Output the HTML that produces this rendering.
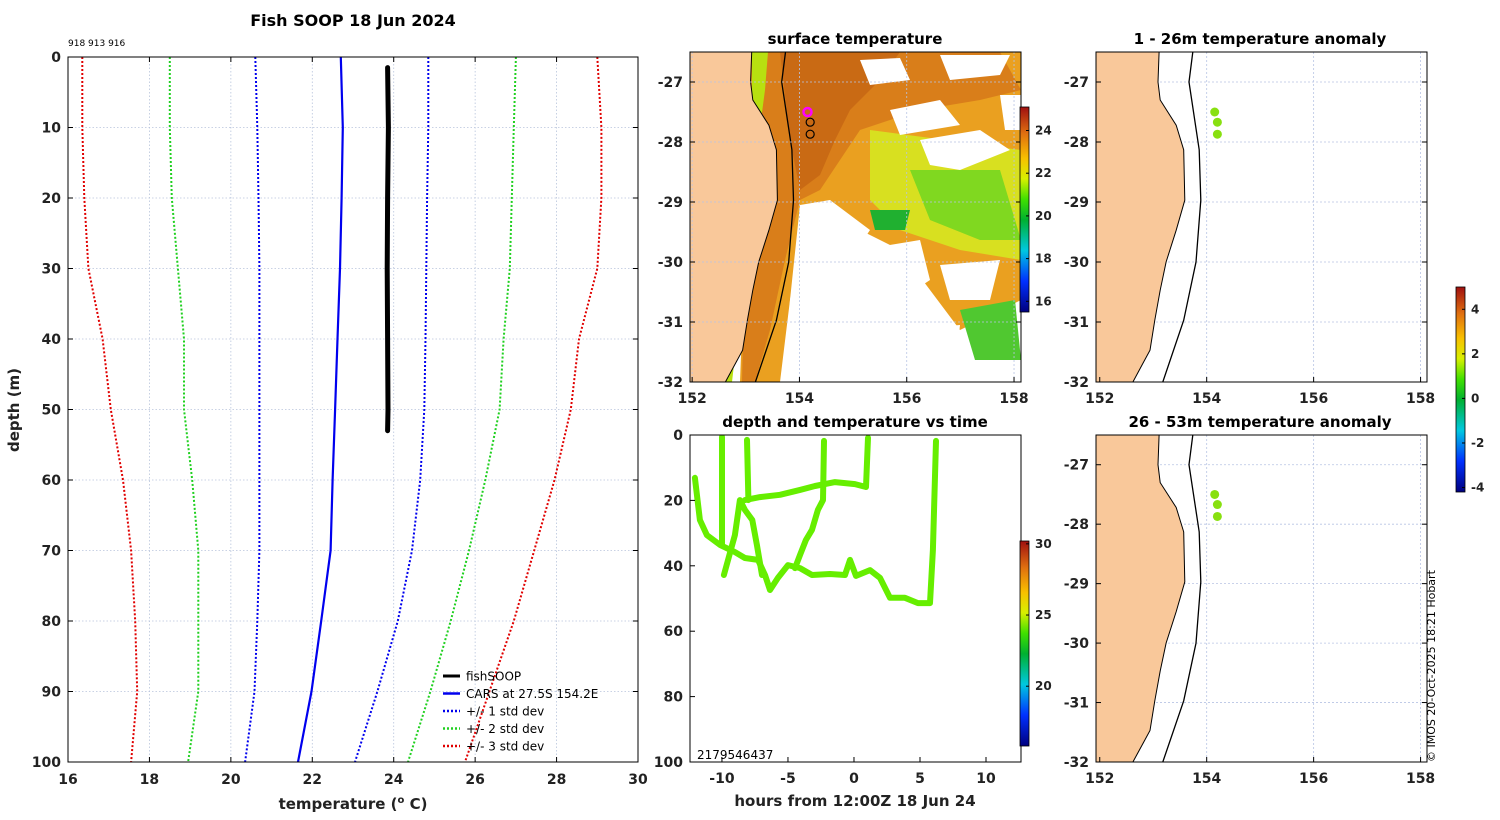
<!DOCTYPE html>
<html><head><meta charset="utf-8">
<style>
html,body{margin:0;padding:0;background:#fff;width:1500px;height:820px;overflow:hidden}
svg{font-family:"DejaVu Sans","Liberation Sans",sans-serif}
</style></head>
<body>
<svg id="fig" width="1500" height="820" viewBox="0 0 1500 820" xmlns="http://www.w3.org/2000/svg">
<defs>
<linearGradient id="jet" x1="0" y1="1" x2="0" y2="0">
<stop offset="0" stop-color="#00007f"/><stop offset="0.15" stop-color="#0030ff"/><stop offset="0.3" stop-color="#00c8e0"/>
<stop offset="0.45" stop-color="#00b030"/><stop offset="0.55" stop-color="#40e000"/><stop offset="0.65" stop-color="#d8f000"/>
<stop offset="0.75" stop-color="#f8c000"/><stop offset="0.87" stop-color="#e07010"/><stop offset="1" stop-color="#a01010"/>
</linearGradient>
<clipPath id="clipL"><rect x="68" y="57" width="570" height="705"/></clipPath>
<clipPath id="clipM"><rect x="690" y="52" width="331" height="330"/></clipPath>
<clipPath id="clipT"><rect x="690" y="435" width="331" height="327"/></clipPath>
<clipPath id="clipR1"><rect x="1096" y="52" width="331" height="330"/></clipPath>
<clipPath id="clipR2"><rect x="1096" y="435" width="331" height="327"/></clipPath>
</defs>
<g id="root"></g>
</svg>
<script>
// ---------- profile data (depth in m, temperature in °C) ----------
const depths = [0,10,20,30,40,50,60,70,80,90,100];
const carsMean = [22.7,22.75,22.72,22.68,22.62,22.56,22.5,22.45,22.22,21.98,21.65];
const std1Lo = [20.6,20.65,20.68,20.7,20.7,20.7,20.7,20.7,20.65,20.58,20.35];
const std1Hi = [24.85,24.85,24.82,24.8,24.78,24.75,24.65,24.45,24.1,23.6,23.05];
const std2Lo = [18.5,18.5,18.55,18.7,18.85,18.85,19.05,19.2,19.2,19.2,18.95];
const std2Hi = [27.0,26.95,26.9,26.85,26.7,26.6,26.25,25.85,25.4,24.9,24.35];
const std3Lo = [16.35,16.35,16.4,16.5,16.85,17.05,17.35,17.55,17.65,17.7,17.55];
const std3Hi = [29.0,29.1,29.1,29.0,28.55,28.35,27.95,27.45,26.95,26.35,25.75];
const fishDepth = [1.5,10,20,30,40,50,53];
const fishTemp = [23.85,23.87,23.85,23.84,23.85,23.86,23.85];
const xTicks = [16,18,20,22,24,26,28,30];
const yTicks = [0,10,20,30,40,50,60,70,80,90,100];
// ---------- depth vs time tracks [hours, depth] ----------
const trackA = [[-12.05,13.1],[-11.67,26],[-11.14,30.6],[-10.15,33.6],[-9.02,35.8],[-8.26,37.6],[-7.27,38.2],[-6.74,42.8],[-6.36,47.4],[-5.76,43.7],[-5.0,39.8],[-4.09,40.7],[-3.18,42.8],[-1.82,42.5],[-0.68,42.8],[-0.3,38.2],[0.15,43.1],[1.21,41.3],[1.97,43.7],[2.73,49.8],[3.86,49.8],[4.85,51.4],[5.76,51.4],[5.98,35.2],[6.21,1.8]];
const trackB = [[-8.26,19.9],[-7.12,19],[-5.6,18.3],[-4.09,16.8],[-2.95,15.6],[-1.44,14.4],[0.08,15],[0.91,15.9],[1.06,0.9]];
const trackC = [[-9.85,42.8],[-9.02,30.6],[-8.64,19.9],[-8.26,22.9],[-7.7,26],[-7.35,33.6],[-6.97,42.8]];
const spike1 = [[-10,0.6],[-10,33.6]];
const spike2 = [[-8.1,1.5],[-8.0,19.9]];
const spike3 = [[-2.27,1.8],[-2.35,19.9],[-2.73,22.9],[-3.18,29],[-3.64,32.1],[-4.09,36.7],[-4.47,40.7]];
const hourTicks = [-10,-5,0,5,10];
const depthTicks2 = [0,20,40,60,80,100];
// ---------- map data ----------
const latTicks = [-27,-28,-29,-30,-31,-32];
const lonTicks = [152,154,156,158];
const coastLat = [-26.4,-26.5,-27,-27.3,-27.72,-28.13,-28.97,-29.47,-30.0,-30.47,-30.97,-31.47,-32,-32.2];
const coastLon = [153.11,153.11,153.09,153.13,153.43,153.57,153.59,153.43,153.24,153.13,153.03,152.94,152.62,152.5];
const isoLat = [-26.4,-26.5,-27,-28.13,-28.97,-30,-30.97,-32,-32.2];
const isoLon = [153.76,153.74,153.67,153.86,153.89,153.8,153.57,153.18,153.1];
const obsLon = [154.15,154.2,154.2];
const obsLat = [-27.5,-27.67,-27.87];
const sstTicks = [16,18,20,22,24];
const anomTicks = [4,2,0,-2,-4];
const tempTicks = [30,25,20];

const NS='http://www.w3.org/2000/svg';
const root=document.getElementById('root');
function mk(tag,attrs,parent,txt){const e=document.createElementNS(NS,tag);for(const k in attrs)e.setAttribute(k,attrs[k]);if(txt!==undefined)e.textContent=txt;(parent||root).appendChild(e);return e;}
function ptsStr(arr){return arr.map(p=>p[0].toFixed(1)+','+p[1].toFixed(1)).join(' ');}

// ================= LEFT PROFILE =================
const L={x0:68,x1:638,y0:57,y1:762};
const sx=t=>L.x0+(t-16)/(30-16)*(L.x1-L.x0);
const sy=d=>L.y0+d/100*(L.y1-L.y0);
let g=mk('g',{});


xTicks.forEach(t=>{const l=mk('line',{x1:sx(t),x2:sx(t),y1:L.y0,y2:L.y1,stroke:'#b8c4dc','stroke-width':0.8,'stroke-dasharray':'1.5,2'},g);});
yTicks.forEach(t=>{const l=mk('line',{x1:L.x0,x2:L.x1,y1:sy(t),y2:sy(t),stroke:'#b8c4dc','stroke-width':0.8,'stroke-dasharray':'1.5,2'},g);});
const cg=mk('g',{'clip-path':'url(#clipL)'},g);
function prof(vals,color,dash,w,name){const p=mk('polyline',{points:ptsStr(vals.map((v,i)=>[sx(v),sy(depths[i])])),fill:'none',stroke:color,'stroke-width':w,'stroke-dasharray':dash},cg);}
prof(std3Lo,'#e00000','2,2',2,'std3-low-line');prof(std3Hi,'#e00000','2,2',2,'std3-high-line');
prof(std2Lo,'#20d020','2,2',2,'std2-low-line');prof(std2Hi,'#20d020','2,2',2,'std2-high-line');
prof(std1Lo,'#0000ee','2,2',2,'std1-low-line');prof(std1Hi,'#0000ee','2,2',2,'std1-high-line');
prof(carsMean,'#0000ee','',2.2,'cars-mean-line');
const fp=mk('polyline',{points:ptsStr(fishTemp.map((v,i)=>[sx(v),sy(fishDepth[i])])),fill:'none',stroke:'#000','stroke-width':5,'stroke-linecap':'round'},cg);

mk('rect',{x:L.x0,y:L.y0,width:L.x1-L.x0,height:L.y1-L.y0,fill:'none',stroke:'#000','stroke-width':1},g);
xTicks.forEach(t=>{mk('line',{x1:sx(t),x2:sx(t),y1:L.y1,y2:L.y1-5,stroke:'#000'},g);mk('line',{x1:sx(t),x2:sx(t),y1:L.y0,y2:L.y0+5,stroke:'#000'},g);const tx=mk('text',{x:sx(t),y:L.y1+22,'text-anchor':'middle','font-size':14,'font-weight':'bold',fill:'#222'},g,t);});
yTicks.forEach(t=>{mk('line',{x1:L.x0,x2:L.x0+5,y1:sy(t),y2:sy(t),stroke:'#000'},g);mk('line',{x1:L.x1,x2:L.x1-5,y1:sy(t),y2:sy(t),stroke:'#000'},g);const tx=mk('text',{x:L.x0-7,y:sy(t)+5,'text-anchor':'end','font-size':14,'font-weight':'bold',fill:'#222'},g,t);});
let t1=mk('text',{x:353,y:26,'text-anchor':'middle','font-size':16,'font-weight':'bold'},g,'Fish SOOP 18 Jun 2024');
let t2=mk('text',{x:68,y:46,'font-size':9},g,'918 913 916');
let xl=mk('text',{x:353,y:809,'text-anchor':'middle','font-size':15,'font-weight':'bold',fill:'#222'},g);xl.innerHTML='temperature (<tspan font-size="10" dy="-6">o</tspan><tspan dy="6"> C)</tspan>';
let yl=mk('text',{x:19,y:410,'text-anchor':'middle','font-size':15,'font-weight':'bold',fill:'#222',transform:'rotate(-90 19 410)'},g,'depth (m)');
const leg=[['fishSOOP','#000',''],['CARS at 27.5S 154.2E','#0000ee',''],['+/- 1 std dev','#0000ee','2,2'],['+/- 2 std dev','#20d020','2,2'],['+/- 3 std dev','#e00000','2,2']];
leg.forEach((e,i)=>{const y=676+i*17.5;const lg=mk('g',{},g);mk('line',{x1:443,x2:460,y1:y,y2:y,stroke:e[1],'stroke-width':e[0]=='fishSOOP'?3:2.5,'stroke-dasharray':e[2]},lg);mk('text',{x:466,y:y+4.5,'font-size':12},lg,e[0]);});

// ================= MAP HELPERS =================
function mapProj(x0,y0,w,h,lon0,lon1,lat0,lat1){return {x:lo=>x0+(lo-lon0)/(lon1-lon0)*w,y:la=>y0+(lat0-la)/(lat0-lat1)*h};}
function drawMapFrame(gp,P,box){
  lonTicks.forEach(t=>mk('line',{x1:P.x(t),x2:P.x(t),y1:box.y,y2:box.y+box.h,stroke:'#b8c4e4','stroke-width':0.8,'stroke-dasharray':'2,2'},gp));
  latTicks.forEach(t=>mk('line',{x1:box.x,x2:box.x+box.w,y1:P.y(t),y2:P.y(t),stroke:'#b8c4e4','stroke-width':0.8,'stroke-dasharray':'2,2'},gp));
}
function drawLand(gp,P,box){
  const pts=[[box.x-5,box.y-20]].concat(coastLat.map((la,i)=>[P.x(coastLon[i]),P.y(la)])).concat([[box.x-5,box.y+box.h+20]]);
  const land=mk('polygon',{points:ptsStr(pts),fill:'#f9c89a'},gp);
  const c=mk('polyline',{points:ptsStr(coastLat.map((la,i)=>[P.x(coastLon[i]),P.y(la)])),fill:'none',stroke:'#000','stroke-width':1},gp);
  const iso=mk('polyline',{points:ptsStr(isoLat.map((la,i)=>[P.x(isoLon[i]),P.y(la)])),fill:'none',stroke:'#000','stroke-width':1.3},gp);
}
function drawAxes(gp,P,box){
  mk('rect',{x:box.x,y:box.y,width:box.w,height:box.h,fill:'none',stroke:'#000','stroke-width':1},gp);
  lonTicks.forEach(t=>{mk('line',{x1:P.x(t),x2:P.x(t),y1:box.y+box.h,y2:box.y+box.h-5,stroke:'#000'},gp);const tx=mk('text',{x:P.x(t),y:box.y+box.h+21,'text-anchor':'middle','font-size':14,'font-weight':'bold',fill:'#222'},gp,t);});
  latTicks.forEach(t=>{mk('line',{x1:box.x,x2:box.x+5,y1:P.y(t),y2:P.y(t),stroke:'#000'},gp);mk('line',{x1:box.x+box.w,x2:box.x+box.w-5,y1:P.y(t),y2:P.y(t),stroke:'#000'},gp);const tx=mk('text',{x:box.x-7,y:P.y(t)+5,'text-anchor':'end','font-size':14,'font-weight':'bold',fill:'#222'},gp,t);});
}
function colorbar(gp,x,y,w,h,vmin,vmax,ticks,name){
  const cb=mk('g',{},gp);
  mk('rect',{x:x,y:y,width:w,height:h,fill:'url(#jet)',stroke:'#000','stroke-width':0.8},cb);
  ticks.forEach(t=>{const yy=y+h-(t-vmin)/(vmax-vmin)*h;mk('line',{x1:x+w-3,x2:x+w,y1:yy,y2:yy,stroke:'#000'},cb);mk('text',{x:x+w+6,y:yy+4,'font-size':12,'font-weight':'bold',fill:'#222'},cb,t);});
}

// ================= SURFACE TEMPERATURE MAP =================
const boxM={x:690,y:52,w:331,h:330};
const PM=mapProj(690,52,331,330,151.96,158.13,-26.5,-32);
g=mk('g',{});
const sg=mk('g',{'clip-path':'url(#clipM)'},g);
mk('polygon',{points:'750,52 1021,52 1021,300 960,330 900,250 860,230 830,250 800,240 790,300 780,382 740,382 745,250 752,150',fill:'#eaa020'},sg);
mk('polygon',{points:'752,52 1000,52 1021,90 980,100 920,110 860,130 840,160 820,190 800,200 785,260 770,330 755,382 742,382 745,250 752,150',fill:'#d97e1a'},sg);
mk('polygon',{points:'780,52 900,52 880,80 850,110 835,140 820,175 800,190 790,140',fill:'#c96a14'},sg);
mk('polygon',{points:'870,130 1021,150 1021,260 960,250 900,230 870,200',fill:'#d8e020'},sg);
mk('polygon',{points:'910,170 1000,170 1021,240 980,240 930,220',fill:'#80d820'},sg);
mk('polygon',{points:'870,210 910,210 905,230 875,230',fill:'#20b030'},sg);
mk('polygon',{points:'960,310 1015,300 1021,360 975,360',fill:'#50c830'},sg);
[['860,60 900,58 910,80 870,85'],['940,55 1010,55 1000,75 950,80'],['890,110 940,100 960,125 900,135'],['920,140 980,130 1010,150 960,170 930,165'],['800,205 830,200 870,230 850,260 840,300 820,330 800,382 785,382 790,300'],['860,250 920,240 930,280 900,300 870,290'],['940,265 1000,260 990,300 950,300'],['820,330 890,320 900,360 850,382 815,382'],['900,330 960,325 955,370 905,375'],['980,365 1021,365 1021,382 975,382'],['1000,95 1021,95 1021,130 1005,130']].forEach(p=>mk('polygon',{points:p[0],fill:'#fff'},sg));
mk('polygon',{points:'752,52 768,52 765,90 757,150 748,250 738,330 732,382 726,382 738,300 746,200 752,120',fill:'#b8e010'},sg);
drawLand(sg,PM,boxM);
drawMapFrame(sg,PM,boxM);
obsLon.forEach((lo,i)=>{const c=mk('circle',{cx:PM.x(lo),cy:PM.y(obsLat[i]),r:4,fill:'none',stroke:i==0?'#ff00ff':'#000','stroke-width':i==0?2.5:1.2},g);});
drawAxes(g,PM,boxM);
let tt=mk('text',{x:855,y:44,'text-anchor':'middle','font-size':15,'font-weight':'bold'},g,'surface temperature');
colorbar(g,1020,107,9,205,15.5,25.1,sstTicks,'sst-colorbar');

// ================= DEPTH/TIME PANEL =================
const T={x0:690,x1:1021,y0:435,y1:762};
const hx=h=>T.x0+(h+12.42)/(12.65+12.42)*(T.x1-T.x0);
const dy=d=>T.y0+d/100*(T.y1-T.y0);
g=mk('g',{});
const tg=mk('g',{'clip-path':'url(#clipT)'},g);
[[trackA,'track-a'],[trackB,'track-b'],[trackC,'track-c'],[spike1,'profile-spike'],[spike2,'profile-spike'],[spike3,'profile-spike']].forEach(s=>{const p=mk('polyline',{points:ptsStr(s[0].map(q=>[hx(q[0]),dy(q[1])])),fill:'none',stroke:'#66ee00','stroke-width':6,'stroke-linejoin':'round','stroke-linecap':'round'},tg);});
mk('rect',{x:T.x0,y:T.y0,width:T.x1-T.x0,height:T.y1-T.y0,fill:'none',stroke:'#000'},g);
hourTicks.forEach(t=>{mk('line',{x1:hx(t),x2:hx(t),y1:T.y1,y2:T.y1-5,stroke:'#000'},g);const tx=mk('text',{x:hx(t),y:T.y1+21,'text-anchor':'middle','font-size':14,'font-weight':'bold',fill:'#222'},g,t);});
depthTicks2.forEach(t=>{mk('line',{x1:T.x0,x2:T.x0+5,y1:dy(t),y2:dy(t),stroke:'#000'},g);const tx=mk('text',{x:T.x0-7,y:dy(t)+5,'text-anchor':'end','font-size':14,'font-weight':'bold',fill:'#222'},g,t);});
tt=mk('text',{x:855,y:427,'text-anchor':'middle','font-size':15,'font-weight':'bold'},g,'depth and temperature vs time');
tt=mk('text',{x:855,y:806,'text-anchor':'middle','font-size':15,'font-weight':'bold',fill:'#222'},g,'hours from 12:00Z 18 Jun 24');
tt=mk('text',{x:697,y:759,'font-size':12},g,'2179546437');
colorbar(g,1020,541,9,205,15.8,30.2,tempTicks,'temp-colorbar');

// ================= ANOMALY MAPS =================
function anomMap(y0,h,title,name,clip){
  const box={x:1096,y:y0,w:331,h:h};
  const P=mapProj(1096,y0,331,h,151.93,158.12,-26.5,-32);
  const gp=mk('g',{});
  const inner=mk('g',{'clip-path':'url(#'+clip+')'},gp);
  drawMapFrame(inner,P,box);
  drawLand(inner,P,box);
  obsLon.forEach((lo,i)=>{const c=mk('circle',{cx:P.x(lo),cy:P.y(obsLat[i]),r:4.5,fill:'#88e010'},gp);});
  drawAxes(gp,P,box);
  const t=mk('text',{x:1260,y:y0-8,'text-anchor':'middle','font-size':15,'font-weight':'bold'},gp,title);
}
anomMap(52,330,'1 - 26m temperature anomaly','anomaly-map-shallow','clipR1');
anomMap(435,327,'26 - 53m temperature anomaly','anomaly-map-deep','clipR2');
colorbar(root,1456,287,9,205,-4.2,5,anomTicks,'anomaly-colorbar');
tt=mk('text',{x:1435,y:762,'font-size':11,transform:'rotate(-90 1435 762)'},root,'© IMOS 20-Oct-2025 18:21 Hobart');
</script>
</body></html>
